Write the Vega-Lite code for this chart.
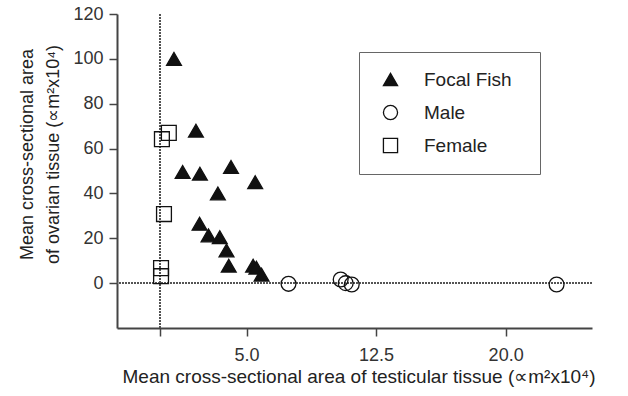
{
  "$schema": "https://vega.github.io/schema/vega-lite/v6.json",
  "width": 475,
  "height": 314,
  "autosize": {"type": "none"},
  "padding": {"left": 117, "top": 14, "right": 36, "bottom": 68},
  "background": "white",
  "config": {
    "font": "Liberation Sans",
    "view": {"stroke": null},
    "axis": {
      "grid": false,
      "domainColor": "#444",
      "domainWidth": 2,
      "tickColor": "#444",
      "tickWidth": 1.5,
      "tickSize": 8,
      "labelFont": "Liberation Sans",
      "labelFontSize": 18,
      "labelColor": "#333",
      "titleFont": "Liberation Sans",
      "titleFontWeight": "normal",
      "titleColor": "#222"
    },
    "legend": {
      "orient": "none",
      "legendX": 242,
      "legendY": 38,
      "strokeColor": "#666",
      "padding": 18,
      "symbolOffset": 4,
      "labelOffset": 24,
      "labelFontSize": 19,
      "labelFont": "Liberation Sans",
      "labelColor": "#222",
      "rowPadding": 12,
      "symbolSize": 200,
      "symbolStrokeWidth": 1.3,
      "titleOrient": "right",
      "titlePadding": 10
    }
  },
  "data": {
    "values": [
      {"testis": 0.8, "ovary": 100, "group": "Focal Fish"},
      {"testis": 2.07, "ovary": 68, "group": "Focal Fish"},
      {"testis": 1.3, "ovary": 49.6, "group": "Focal Fish"},
      {"testis": 2.3, "ovary": 48.8, "group": "Focal Fish"},
      {"testis": 4.1, "ovary": 51.8, "group": "Focal Fish"},
      {"testis": 3.34, "ovary": 40, "group": "Focal Fish"},
      {"testis": 5.5, "ovary": 45, "group": "Focal Fish"},
      {"testis": 2.28, "ovary": 26.5, "group": "Focal Fish"},
      {"testis": 2.8, "ovary": 21.3, "group": "Focal Fish"},
      {"testis": 3.45, "ovary": 20.5, "group": "Focal Fish"},
      {"testis": 3.84, "ovary": 14.6, "group": "Focal Fish"},
      {"testis": 3.97, "ovary": 7.8, "group": "Focal Fish"},
      {"testis": 5.38, "ovary": 7.8, "group": "Focal Fish"},
      {"testis": 5.57, "ovary": 6.9, "group": "Focal Fish"},
      {"testis": 5.87, "ovary": 3.8, "group": "Focal Fish"},
      {"testis": 7.43, "ovary": -0.3, "group": "Male"},
      {"testis": 10.45, "ovary": 1.6, "group": "Male"},
      {"testis": 10.74, "ovary": 0, "group": "Male"},
      {"testis": 11.09, "ovary": -0.6, "group": "Male"},
      {"testis": 22.95, "ovary": -0.6, "group": "Male"},
      {"testis": 0.1, "ovary": 64.2, "group": "Female"},
      {"testis": 0.5, "ovary": 67, "group": "Female"},
      {"testis": 0.22, "ovary": 30.8, "group": "Female"},
      {"testis": 0.05, "ovary": 6.7, "group": "Female"},
      {"testis": 0.05, "ovary": 3.1, "group": "Female"}
    ]
  },
  "layer": [
    {
      "mark": {"type": "rule", "color": "#555", "strokeDash": [1.5, 1.5], "strokeWidth": 1},
      "encoding": {"x": {"datum": 0, "type": "quantitative"}}
    },
    {
      "mark": {"type": "rule", "color": "#555", "strokeDash": [1.5, 1.5], "strokeWidth": 1},
      "encoding": {"y": {"datum": 0, "type": "quantitative"}}
    },
    {
      "mark": {"type": "point", "size": 220, "strokeWidth": 1.3, "opacity": 1, "filled": true},
      "encoding": {
        "x": {
          "field": "testis",
          "type": "quantitative",
          "scale": {"domain": [-2.5, 25], "nice": false, "zero": false},
          "axis": {
            "values": [0, 5, 12.5, 20],
            "labelExpr": "datum.value === 0 ? '' : format(datum.value, '.1f')",
            "labelPadding": 10,
            "title": "Mean cross-sectional area of testicular tissue  (∝m²x10⁴)",
            "titleFontSize": 19,
            "titleAnchor": "start",
            "titleAlign": "left",
            "titleBaseline": "alphabetic",
            "titleX": 5,
            "titleY": 54
          }
        },
        "y": {
          "field": "ovary",
          "type": "quantitative",
          "scale": {"domain": [-20, 120], "nice": false, "zero": false},
          "axis": {
            "values": [0, 20, 40, 60, 80, 100, 120],
            "labelPadding": 6,
            "title": ["Mean cross-sectional area", "of ovarian tissue  (∝m²x10⁴)"],
            "titleFontSize": 18,
            "titleLineHeight": 26,
            "titleAngle": -90,
            "titleAlign": "center",
            "titleBaseline": "alphabetic",
            "titleX": -85,
            "titleY": 140
          }
        },
        "shape": {
          "field": "group",
          "type": "nominal",
          "scale": {"domain": ["Focal Fish", "Male", "Female"], "range": ["triangle-up", "circle", "square"]},
          "legend": {"title": " "}
        },
        "fill": {
          "field": "group",
          "type": "nominal",
          "scale": {"domain": ["Focal Fish", "Male", "Female"], "range": ["#111", "transparent", "transparent"]},
          "legend": {"title": " "}
        },
        "stroke": {
          "field": "group",
          "type": "nominal",
          "scale": {"domain": ["Focal Fish", "Male", "Female"], "range": ["#111", "#111", "#111"]},
          "legend": {"title": " "}
        }
      }
    }
  ]
}
